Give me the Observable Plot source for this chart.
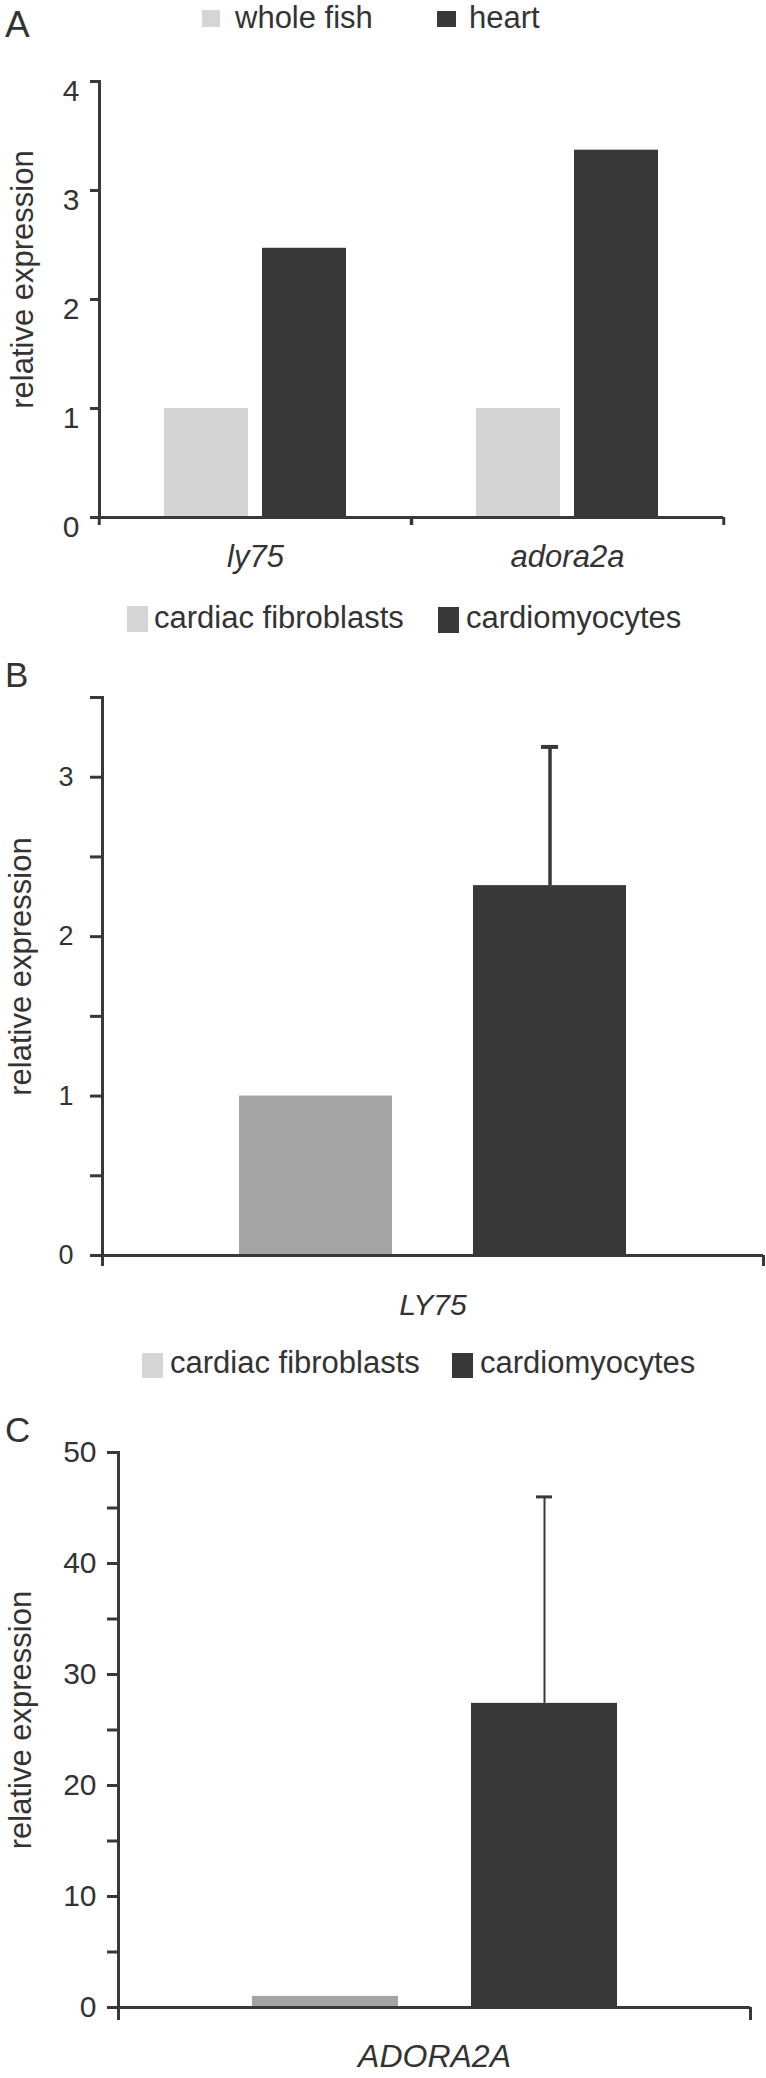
<!DOCTYPE html>
<html>
<head>
<meta charset="utf-8">
<script src="https://cdn.jsdelivr.net/npm/d3@7"></script>
<script src="https://cdn.jsdelivr.net/npm/@observablehq/plot@0.6"></script>
<style>
  html, body { margin: 0; padding: 0; background: #ffffff; }
  #page { position: relative; width: 766px; height: 2078px; overflow: hidden; background: #ffffff;
          font-family: 'Liberation Sans', Arial, Helvetica, sans-serif; color: #333333; }
  .t { position: absolute; line-height: 1; white-space: nowrap; }
  .sw { position: absolute; }
  svg { position: absolute; left: 0; }
</style>
</head>
<body>
<div id="page"></div>
<script>
// ---------------- data ----------------
// Panel A
const genesA = ["ly75", "adora2a"];
const seriesA = ["whole fish", "heart"];
const wholeFishA = [1, 1];
const heartA = [2.47, 3.37];
const yTicksA = [0, 1, 2, 3, 4];

// Panel B
const genesB = ["LY75"];
const seriesB = ["cardiac fibroblasts", "cardiomyocytes"];
const fibroblastsB = [1];
const cardiomyocytesB = [2.32];
const cardiomyocytesErrB = [0.87];
const yTicksB = [0, 0.5, 1, 1.5, 2, 2.5, 3, 3.5];
const yLabelsB = [0, 1, 2, 3];

// Panel C
const genesC = ["ADORA2A"];
const seriesC = ["cardiac fibroblasts", "cardiomyocytes"];
const fibroblastsC = [1];
const cardiomyocytesC = [27.4];
const cardiomyocytesErrC = [18.6];
const yTicksC = [0, 5, 10, 15, 20, 25, 30, 35, 40, 45, 50];
const yLabelsC = [0, 10, 20, 30, 40, 50];

const yTitle = "relative expression";
const panelLetters = ["A", "B", "C"];

// ---------------- styles ----------------
const FONT = "'Liberation Sans', Arial, Helvetica, sans-serif";
const axisColor = "#383838";
const textColor = "#333333";
const darkFill = "#383838";
const lightFillA = "#d4d4d4";
const midFillBC = "#a4a4a4";
const legendLight = "#d5d5d5";

const page = document.getElementById("page");

function textAt(str, x, baseline, size, extra = {}) {
  const d = document.createElement("div");
  d.className = "t";
  d.textContent = str;
  d.style.left = x + "px";
  d.style.top = (baseline - 0.8465 * size) + "px";
  d.style.fontSize = size + "px";
  Object.assign(d.style, extra);
  page.appendChild(d);
}
function swatch(x, y, w, h, color) {
  const d = document.createElement("div");
  d.className = "sw";
  Object.assign(d.style, {left: x + "px", top: y + "px", width: w + "px", height: h + "px", background: color});
  page.appendChild(d);
}

function panel(c) {
  const rows = c.series.flatMap((s, j) => c.genes.map((g, i) => ({
    gene: g, series: s, value: c.values[j][i],
    err: c.errors && c.errors[j] ? c.errors[j][i] : null
  })));
  const errRows = rows.filter(d => d.err != null);
  const fw = (c.width - c.ml - c.mr) / c.genes.length;
  const stroke = axisColor;
  const svg = Plot.plot({
    width: c.width, height: c.height,
    marginLeft: c.ml, marginRight: c.mr, marginTop: c.mt, marginBottom: c.mb,
    style: {fontFamily: FONT, color: textColor, background: "transparent", overflow: "visible"},
    fx: {domain: c.genes, padding: 0, label: null},
    x: {domain: c.series, paddingInner: c.pi, paddingOuter: c.po, axis: null},
    y: {domain: c.yDomain, label: null},
    color: {domain: c.series, range: c.fills},
    marks: [
      Plot.barY(rows, {fx: "gene", x: "series", y: "value", fill: "series"}),
      Plot.ruleX(errRows, {fx: "gene", x: "series", y1: "value", y2: d => d.value + d.err, stroke, strokeWidth: c.errW}),
      Plot.tickY(errRows, {fx: "gene", x: "series", y: d => d.value + d.err, stroke, strokeWidth: c.capW, inset: c.capInset}),
      Plot.ruleY([0], {stroke, strokeWidth: 3}),
      Plot.frame({anchor: "left", facetAnchor: "left", stroke, strokeWidth: 3}),
      Plot.axisY({ticks: c.yTicks, tickSize: c.tickSize, tickFormat: () => "", stroke, strokeWidth: 3, label: null}),
      Plot.axisY({ticks: c.yLabels, tickSize: 0, tickPadding: c.tickPad, tickFormat: d => String(d), fontSize: c.tickFont, dy: c.tickDy, fill: textColor, label: null}),
      Plot.text([yTitle], {text: d => d, frameAnchor: "left", facetAnchor: "left", rotate: -90, textAnchor: "middle", lineAnchor: "middle",
        dx: c.labelX - c.ml, dy: c.labelDy, fontSize: c.labelFont, fill: textColor}),
      Plot.axisFx({anchor: "bottom", tickSize: 0, tickPadding: c.xPad, fontSize: c.xFont, fontStyle: "italic", fill: textColor, label: null}),
      Plot.axisFx({anchor: "bottom", tickSize: c.xTick, tickFormat: () => "", dx: -fw / 2, stroke, strokeWidth: 3, label: null}),
      Plot.axisFx({anchor: "bottom", tickSize: c.xTick, tickFormat: () => "", dx: fw / 2, stroke, strokeWidth: 3, label: null})
    ]
  });
  svg.style.top = c.top + "px";
  page.appendChild(svg);
}

// ---------------- Panel A ----------------
textAt(panelLetters[0], 5, 37, 37);
swatch(202, 10, 18, 17, legendLight);
textAt(seriesA[0], 235, 28, 31);
swatch(437, 11, 19, 16, darkFill);
textAt(seriesA[1], 469, 28, 31);
panel({
  top: 40, width: 766, height: 560, ml: 98, mr: 43, mt: 41, mb: 83,
  genes: genesA, series: seriesA, values: [wholeFishA, heartA], errors: null,
  fills: [lightFillA, darkFill], pi: 0.146, po: 0.66,
  yDomain: [0, 4], yTicks: yTicksA, yLabels: yTicksA,
  tickSize: 9, tickPad: 20, tickFont: 30, tickDy: 10,
  labelX: 22, labelDy: -20, labelFont: 31,
  xPad: 27, xFont: 31, xTick: 8, errW: 3, capW: 3, capInset: 0
});

// ---------------- Panel B ----------------
swatch(127, 606, 21, 26, legendLight);
textAt(seriesB[0], 154, 628, 31);
swatch(438, 607, 21, 26, darkFill);
textAt(seriesB[1], 466, 628, 31);
textAt(panelLetters[1], 5, 687, 35);
panel({
  top: 690, width: 766, height: 650, ml: 102, mr: 3, mt: 7, mb: 85,
  genes: genesB, series: seriesB, values: [fibroblastsB, cardiomyocytesB], errors: [null, cardiomyocytesErrB],
  fills: [midFillBC, darkFill], pi: 0.347, po: 0.585,
  yDomain: [0, 3.5], yTicks: yTicksB, yLabels: yLabelsB,
  tickSize: 12, tickPad: 29, tickFont: 27, tickDy: 0,
  labelX: 21, labelDy: -10, labelFont: 31,
  xPad: 38, xFont: 30, xTick: 11, errW: 3.5, capW: 4, capInset: 68
});

// ---------------- Panel C ----------------
swatch(142, 1353, 21, 25, legendLight);
textAt(seriesC[0], 170, 1373, 31);
swatch(452, 1353, 21, 25, darkFill);
textAt(seriesC[1], 480, 1373, 31);
textAt(panelLetters[2], 5, 1442, 35);
panel({
  top: 1430, width: 766, height: 648, ml: 118, mr: 16, mt: 22, mb: 71,
  genes: genesC, series: seriesC, values: [fibroblastsC, cardiomyocytesC], errors: [null, cardiomyocytesErrC],
  fills: [midFillBC, darkFill], pi: 0.334, po: 0.607,
  yDomain: [0, 50], yTicks: yTicksC, yLabels: yLabelsC,
  tickSize: 11, tickPad: 22, tickFont: 30, tickDy: 0,
  labelX: 21, labelDy: -10, labelFont: 31,
  xPad: 37, xFont: 32, xTick: 13, errW: 2, capW: 3, capInset: 65
});
</script>
</body>
</html>
